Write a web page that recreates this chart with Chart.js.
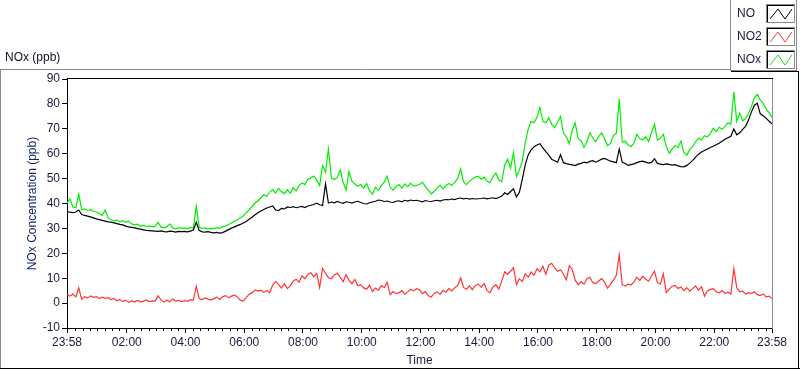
<!DOCTYPE html>
<html>
<head>
<meta charset="utf-8">
<title>NOx (ppb)</title>
<script src="https://cdn.jsdelivr.net/npm/chart.js@4.4.1/dist/chart.umd.min.js"></script>
<style>
  html, body { margin: 0; padding: 0; background: #ffffff; }
  canvas { display: block; }
</style>
</head>
<body>
<canvas id="myChart" width="800" height="369"></canvas>
<script>
// sample times, minutes after midnight of the first day (23:58 = -2), one every 6 min
var stepMinutes = 6;
var startMinute = -2;
var xTickValues = [-2, 120, 240, 360, 480, 600, 720, 840, 960, 1080, 1200, 1320, 1438];
var yTickMin = -10, yTickMax = 90, yTickStep = 10;

var noValues = [
  36.8, 36.5, 36.3, 36.6, 37.4, 35.6, 35.2, 34.9, 34.6, 34.2,
  33.8, 33.5, 33.2, 32.9, 32.6, 32.5, 32.2, 31.9, 31.6, 31.4,
  30.9, 30.6, 30.4, 30.2, 29.9, 29.7, 29.4, 29.2, 29.1, 29.0,
  28.9, 28.8, 29.0, 28.7, 28.6, 28.9, 28.8, 28.5, 28.8, 28.7,
  28.8, 28.6, 28.9, 29.3, 32.5, 29.2, 28.6, 28.5, 28.7, 28.4,
  28.2, 28.4, 28.1, 28.3, 28.9, 29.5, 30.1, 30.6, 31.1, 31.6,
  32.2, 32.8, 33.7, 34.5, 35.5, 36.3, 37.0, 37.6, 38.2, 38.6,
  39.0, 37.4, 37.2, 38.0, 37.8, 38.6, 38.4, 38.7, 38.3, 38.6,
  38.8, 38.4, 39.0, 39.3, 39.6, 40.1, 39.5, 39.2, 47.9, 40.2,
  40.6, 40.3, 40.8, 40.4, 40.1, 40.7, 40.5, 40.2, 40.6, 40.9,
  40.4, 40.0, 39.8, 40.3, 40.6, 40.9, 41.4, 41.2, 40.8, 41.0,
  40.6, 40.4, 40.9, 41.1, 40.7, 41.3, 41.0, 41.4, 41.1, 41.3,
  41.0, 40.7, 41.2, 40.9, 40.8, 41.1, 41.3, 41.0, 41.4, 41.6,
  41.5, 41.8, 41.6, 42.0, 42.2, 41.9, 42.1, 41.8, 42.0, 41.8,
  41.9, 42.0, 42.2, 41.9, 42.1, 42.3, 42.0, 42.4, 43.0, 44.3,
  43.6, 44.8, 45.9, 42.6, 44.5, 49.8, 55.5, 59.5, 61.5, 62.8,
  63.5, 64.0, 62.3, 60.8, 59.4, 57.8, 57.2, 56.6, 59.6, 56.4,
  56.0, 55.7, 55.5, 55.2, 55.8, 56.1, 56.6, 56.3, 56.9, 57.2,
  56.6, 57.2, 57.8, 58.1, 57.6, 57.0, 56.7, 56.4, 61.9, 56.6,
  56.1, 55.3, 55.6, 55.9, 56.4, 56.8, 57.0, 56.6, 56.2, 56.5,
  58.0, 56.1, 55.8, 55.6, 55.9, 55.7, 55.4, 55.6, 55.1, 54.8,
  54.7, 55.3, 56.2, 57.3, 58.6, 59.8, 60.7, 61.3, 61.9, 62.5,
  63.0, 63.6, 64.2, 65.0, 65.8, 66.4, 67.0, 69.9, 67.6, 68.4,
  69.8, 71.0, 73.5, 76.8, 79.5, 80.3, 76.0, 75.2, 74.3, 73.0,
  72.0
];

var no2Values = [
  3.4, 2.8, 3.6, 2.5, 6.2, 1.5, 2.6, 2.0, 2.9, 2.3,
  2.6, 1.8, 2.4, 1.9, 2.2, 1.4, 1.9, 0.9, 1.5, 0.6,
  1.2, 0.2, 1.0, 0.4, 1.1, 0.5, 0.8, 1.3, 0.6, 0.9,
  0.7, 2.9, 1.3, 0.4, 1.2, 0.5, 1.6, 0.8, 1.1, 0.6,
  1.0, 0.7, 1.4, 1.1, 6.8, 1.9, 1.3, 2.1, 1.6, 1.2,
  1.8, 2.4, 1.5, 2.6, 3.0, 2.1, 2.8, 3.3, 2.5, 1.2,
  0.8, 2.2, 3.6, 4.1, 5.3, 4.8, 5.2, 4.3, 5.0, 4.2,
  7.2, 8.6, 7.5, 6.1, 7.8, 5.8, 6.9, 8.8, 9.6, 8.4,
  11.0, 9.8, 11.5, 12.2, 10.6, 11.9, 6.2, 13.9, 12.0, 10.2,
  9.8, 11.3, 12.0, 10.4, 8.6, 11.4, 9.2, 7.8, 9.5, 7.0,
  7.4, 6.1, 5.6, 7.2, 4.6, 6.0, 5.2, 7.0, 6.2, 8.4,
  3.4, 4.6, 3.8, 4.2, 5.0, 3.6, 4.5, 5.6, 4.9, 5.8,
  5.4, 3.8, 4.6, 2.9, 2.4, 3.9, 4.5, 3.5, 5.1, 4.4,
  5.8, 4.9, 6.2, 7.0, 10.1, 6.3, 5.6, 6.9, 5.4, 7.1,
  7.6, 6.4, 7.8, 5.0, 4.2, 6.5, 7.4, 5.6, 8.9, 12.6,
  11.6, 12.8, 14.2, 7.4, 9.8, 8.6, 11.8, 10.4, 12.5, 11.2,
  13.8, 12.6, 14.8, 11.5, 15.2, 16.0, 14.1, 12.8, 13.4, 11.6,
  9.4, 15.0, 13.5, 9.2, 7.4, 8.6, 7.6, 9.8, 10.4, 8.2,
  7.8, 8.9, 9.8, 8.4, 6.0, 7.5, 9.2, 11.2, 19.4, 7.4,
  6.8, 7.6, 7.2, 8.5, 10.4, 9.1, 10.8, 9.6, 8.8, 11.0,
  12.8, 8.2, 7.6, 11.8, 4.2, 5.6, 6.8, 7.1, 5.9, 6.5,
  5.0, 6.2, 4.8, 5.8, 6.9, 5.2, 6.6, 2.8, 4.9, 5.5,
  5.8, 4.6, 4.1, 5.0, 3.8, 4.4, 3.6, 13.8, 6.2, 4.5,
  4.8, 3.6, 4.2, 3.9, 4.6, 3.4, 3.0, 3.7, 2.5, 2.8,
  1.8
];

var noxValues = [
  40.2, 41.8, 38.6, 38.3, 43.8, 37.5, 37.8, 37.2, 37.5, 36.9,
  36.6, 36.0, 35.2, 37.4, 34.2, 33.5, 33.0, 33.4, 32.6, 33.1,
  32.4, 32.9, 31.8, 31.4, 31.7, 30.9, 31.2, 30.7, 31.0, 30.6,
  30.8, 32.4, 30.5, 30.2, 30.6, 31.8, 30.1, 29.8, 30.3, 30.0,
  30.2, 29.8, 30.4, 30.1, 38.9, 30.5, 29.9, 30.2, 29.7, 30.0,
  29.9, 30.3, 30.0, 30.6, 31.0, 31.6, 32.2, 33.0, 33.5, 34.3,
  35.0, 36.2, 37.5, 38.8, 40.2, 41.0, 42.3, 43.5, 42.8, 44.6,
  45.6, 44.2, 46.0, 44.8, 43.9, 45.5, 44.1, 46.3, 45.0, 47.2,
  48.2, 47.6, 49.8, 50.2, 51.0, 49.5, 47.2, 55.2, 52.5, 61.9,
  50.2, 49.6, 50.5, 53.5, 48.6, 45.4, 52.8, 48.9, 47.8, 46.9,
  47.6, 46.2, 48.0, 45.1, 43.8, 46.5, 45.3, 47.2, 48.6, 51.0,
  46.6, 45.4, 46.8, 47.6, 46.2, 47.9, 46.8, 48.2, 47.0, 47.3,
  47.6, 48.6, 46.8, 45.5, 43.9, 44.8, 46.3, 47.4, 45.9, 47.2,
  48.0, 47.2, 48.5, 50.1, 53.9, 48.8, 47.6, 48.9, 49.8, 50.6,
  51.0, 49.8, 50.6, 48.9, 48.4, 50.8, 52.2, 49.5, 48.7, 55.5,
  57.8, 54.2, 60.4, 50.8, 53.5, 57.0, 64.5, 69.8, 73.0, 72.4,
  74.6, 78.6, 73.0, 72.4, 74.5, 71.8, 70.4, 72.6, 75.0, 68.2,
  66.8, 64.0, 69.5, 72.4, 66.0, 65.2, 62.6, 64.8, 68.4, 66.2,
  64.8, 66.9, 68.4, 66.0, 63.2, 64.1, 67.3, 68.2, 82.0, 64.6,
  65.0, 63.6, 62.8, 64.2, 67.8, 66.1, 65.5, 66.8, 64.9, 68.6,
  71.8, 65.4, 66.3, 67.8, 63.0, 60.2, 61.8, 63.3, 62.5, 65.1,
  60.5, 59.4, 61.6, 62.9, 64.8, 66.3, 65.5, 67.2, 66.8, 68.1,
  70.2, 68.9, 70.6, 69.8, 71.0, 72.4, 71.8, 84.8, 73.0, 76.3,
  73.2, 74.0, 76.2, 79.0, 82.4, 83.8, 81.5, 80.2, 78.0, 76.5,
  74.6
];

var seriesNames = ['NO', 'NO2', 'NOx'];
var seriesColors = ['#000000', '#ff3535', '#00ee00'];

var sampleTimes = noValues.map(function (v, i) { return startMinute + i * stepMinutes; });

function toPoints(values) {
  return values.map(function (v, i) { return { x: sampleTimes[i], y: v }; });
}

function fmtTime(m) {
  var t = ((m % 1440) + 1440) % 1440;
  var h = Math.floor(t / 60), mm = t % 60;
  return (h < 10 ? '0' : '') + h + ':' + (mm < 10 ? '0' : '') + mm;
}

var FONT = { family: "'Liberation Sans', Arial, sans-serif", size: 12 };
var TEXT = '#161c3a';

function seg(ctx, x1, y1, x2, y2) {
  ctx.beginPath(); ctx.moveTo(x1, y1); ctx.lineTo(x2, y2); ctx.stroke();
}

// panel frame, plot border, minor ticks, legend
var decorPlugin = {
  id: 'decor',
  afterDraw: function (chart) {
    var ctx = chart.ctx, a = chart.chartArea, xs = chart.scales.x;
    ctx.save();
    ctx.lineWidth = 1;

    // plot border (top black, right grey)
    ctx.strokeStyle = '#000000';
    seg(ctx, a.left, a.top - 0.5, a.right + 1, a.top - 0.5);
    ctx.strokeStyle = '#8c8c8c';
    seg(ctx, a.right + 0.5, a.top, a.right + 0.5, a.bottom + 1);

    // minor ticks every 15 min
    ctx.strokeStyle = '#000000';
    for (var m = 0; m < 1438; m += 15) {
      if (m % 120 === 0) continue;
      var px = Math.round(xs.getPixelForValue(m)) + 0.5;
      seg(ctx, px, a.bottom, px, a.bottom + 3);
    }

    // panel frame
    ctx.strokeStyle = '#8a8a8a';
    seg(ctx, 0, 69.5, 731, 69.5);
    seg(ctx, 0.5, 69, 0.5, 369);
    ctx.strokeStyle = '#000000';
    seg(ctx, 0, 368.5, 800, 368.5);
    seg(ctx, 798.5, 71, 798.5, 369);
    seg(ctx, 731, 71.5, 799, 71.5);

    // top-left caption
    ctx.fillStyle = '#101426';
    ctx.font = '12px ' + FONT.family;
    ctx.textBaseline = 'middle';
    ctx.textAlign = 'left';
    ctx.fillText('NOx (ppb)', 5, 58);

    // legend box
    ctx.strokeStyle = '#8a8a8a';
    ctx.strokeRect(730.5, -0.5, 66, 71);
    var rows = [4, 27, 50];
    for (var i = 0; i < seriesNames.length; i++) {
      var y = rows[i];
      ctx.fillStyle = TEXT;
      ctx.fillText(seriesNames[i], 737, y + 9.5);
      ctx.strokeStyle = '#8a8a8a';
      ctx.strokeRect(766.5, y + 0.5, 28, 18);
      ctx.strokeStyle = '#000000';
      seg(ctx, 767, y + 1.5, 794, y + 1.5);
      seg(ctx, 767.5, y + 1, 767.5, y + 18);
      ctx.strokeStyle = seriesColors[i];
      ctx.beginPath();
      ctx.moveTo(770, y + 15);
      ctx.lineTo(778, y + 5);
      ctx.lineTo(785, y + 15);
      ctx.lineTo(792, y + 5);
      ctx.stroke();
    }
    ctx.restore();
  }
};

new Chart(document.getElementById('myChart').getContext('2d'), {
  type: 'line',
  data: {
    datasets: [
      { label: seriesNames[0], data: toPoints(noValues), borderColor: seriesColors[0], order: 0 },
      { label: seriesNames[1], data: toPoints(no2Values), borderColor: seriesColors[1], order: 1 },
      { label: seriesNames[2], data: toPoints(noxValues), borderColor: seriesColors[2], order: 2 }
    ]
  },
  options: {
    responsive: false,
    animation: false,
    devicePixelRatio: 1,
    layout: { padding: { top: 79, right: 28, left: 0, bottom: 0 } },
    elements: {
      point: { radius: 0 },
      line: { borderWidth: 1.2, tension: 0, fill: false }
    },
    plugins: {
      legend: { display: false },
      tooltip: { enabled: false }
    },
    scales: {
      x: {
        type: 'linear',
        min: -2,
        max: 1438,
        afterBuildTicks: function (s) {
          s.ticks = xTickValues.map(function (v) { return { value: v }; });
        },
        afterFit: function (s) { s.height = 41; },
        ticks: {
          autoSkip: false, maxRotation: 0, padding: 2,
          font: FONT, color: TEXT,
          callback: function (v) { return fmtTime(v); }
        },
        grid: { drawOnChartArea: false, tickLength: 5, color: '#000000' },
        border: { color: '#000000' },
        title: { display: true, text: 'Time', font: FONT, color: TEXT, padding: { top: 0, bottom: 1 } }
      },
      y: {
        min: yTickMin,
        max: yTickMax,
        afterFit: function (s) { s.width = 67; },
        ticks: { stepSize: yTickStep, padding: 2, font: FONT, color: TEXT },
        grid: { drawOnChartArea: false, tickLength: 5, color: '#000000' },
        border: { color: '#000000' },
        title: { display: true, text: 'NOx Concentration (ppb)', font: FONT, color: '#18246a', padding: { top: 25, bottom: 0 } }
      }
    }
  },
  plugins: [decorPlugin]
});
</script>
</body>
</html>
